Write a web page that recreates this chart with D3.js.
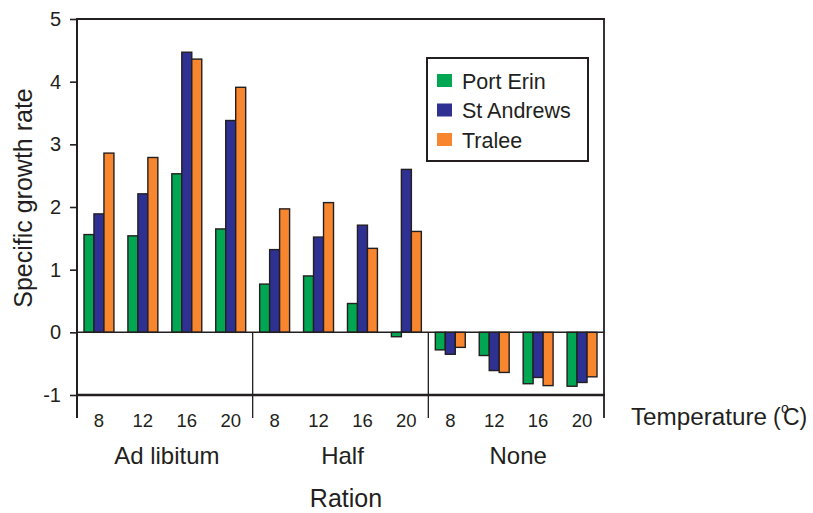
<!DOCTYPE html>
<html><head><meta charset="utf-8">
<script src="https://cdn.jsdelivr.net/npm/d3@7"></script>
<style>body{margin:0;background:#fff} text{font-family:"Liberation Sans",Arial,sans-serif;fill:#231f20}</style>
</head><body><svg id="c" width="813" height="513"></svg>
<script>
const rations = ["Ad libitum","Half","None"];
const temperatures = ["8","12","16","20"];
const series = ["Port Erin","St Andrews","Tralee"];
const portErin  = [1.56,1.54,2.53,1.65, 0.77,0.90,0.46,-0.07, -0.28,-0.37,-0.82,-0.86];
const stAndrews = [1.89,2.21,4.47,3.38, 1.32,1.52,1.71,2.60, -0.35,-0.61,-0.72,-0.80];
const tralee    = [2.86,2.79,4.36,3.91, 1.97,2.07,1.34,1.61, -0.24,-0.64,-0.85,-0.71];
const yTicks = [-1,0,1,2,3,4,5];
const colors = ["#00a651","#2e3192","#f7862f"];
const ink = "#231f20";

const svg = d3.select("#c");
const y = d3.scaleLinear().domain([-1,5]).range([395,19]);
const xGroup = d3.scaleBand().domain(rations).range([77,604]);
const xTemp = d3.scaleBand().domain(temperatures).range([0,xGroup.bandwidth()]);
const xSeries = d3.scaleBand().domain(series).range([0,xTemp.bandwidth()]).paddingInner(0).paddingOuter(0.7);
const color = d3.scaleOrdinal().domain(series).range(colors);
const valuesBySeries = [portErin, stAndrews, tralee];

const data = [];
rations.forEach((r,i)=>temperatures.forEach((t,j)=>series.forEach((s,k)=>{
  data.push({r,t,s,v:valuesBySeries[k][i*4+j]});
})));

// bars
svg.append("g").selectAll("rect").data(data).join("rect")
  .attr("x",d=>xGroup(d.r)+xTemp(d.t)+xSeries(d.s))
  .attr("width",xSeries.bandwidth())
  .attr("y",d=>Math.min(y(d.v),y(0)))
  .attr("height",d=>Math.abs(y(d.v)-y(0)))
  .attr("fill",d=>color(d.s))
  .attr("stroke",ink).attr("stroke-width",1.4);

// zero line
svg.append("line").attr("x1",77).attr("x2",604).attr("y1",y(0)).attr("y2",y(0))
  .attr("stroke",ink).attr("stroke-width",1.5);
// frame top / right
svg.append("line").attr("x1",77).attr("x2",605).attr("y1",y(5)).attr("y2",y(5)).attr("stroke",ink).attr("stroke-width",2);
svg.append("line").attr("x1",604).attr("x2",604).attr("y1",y(5)).attr("y2",418).attr("stroke",ink).attr("stroke-width",1.8);
// bottom line
svg.append("line").attr("x1",77).attr("x2",605).attr("y1",y(-1)).attr("y2",y(-1)).attr("stroke",ink).attr("stroke-width",2.5);
// group dividers
rations.slice(1).forEach(r=>{
  svg.append("line").attr("x1",xGroup(r)).attr("x2",xGroup(r)).attr("y1",y(0)).attr("y2",418)
    .attr("stroke",ink).attr("stroke-width",1.3);
});

// y axis
const yAxis = svg.append("g").attr("transform","translate(77,0)")
  .call(d3.axisLeft(y).tickValues(yTicks).tickSize(7).tickPadding(9).tickFormat(d=>String(d)));
yAxis.select(".domain").remove();
yAxis.selectAll(".tick line").attr("stroke",ink).attr("stroke-width",1.6);
yAxis.selectAll(".tick text").attr("font-size",20).attr("font-family",null).attr("fill",ink);
svg.append("line").attr("x1",77).attr("x2",77).attr("y1",y(5)-1).attr("y2",418).attr("stroke",ink).attr("stroke-width",2);

// x tick labels
rations.forEach(r=>temperatures.forEach(t=>{
  svg.append("text").attr("x",xGroup(r)+xTemp(t)+xTemp.bandwidth()/2).attr("y",427)
    .attr("text-anchor","middle").attr("font-size",18.5).text(t);
}));
// group labels
rations.forEach(r=>{
  svg.append("text").attr("x",xGroup(r)+xGroup.bandwidth()/2+2).attr("y",464)
    .attr("text-anchor","middle").attr("font-size",24).text(r);
});
svg.append("text").attr("x",346).attr("y",507).attr("text-anchor","middle").attr("font-size",25).text("Ration");

// y title
svg.append("text").attr("transform","translate(32,198) rotate(-90)").attr("text-anchor","middle")
  .attr("font-size",25).text("Specific growth rate");

// Temperature label
const tl = svg.append("text").attr("x",631).attr("y",425).attr("font-size",23);
tl.append("tspan").attr("textLength",136).attr("lengthAdjust","spacingAndGlyphs").text("Temperature");
tl.append("tspan").attr("x",773).text("(");
tl.append("tspan").attr("x",781).attr("font-size",14).attr("dy",-12).text("o");
tl.append("tspan").attr("x",783).attr("dy",12).text("C)");

// legend
const lg = svg.append("g");
lg.append("rect").attr("x",427).attr("y",58).attr("width",161).attr("height",103)
  .attr("fill","#fff").attr("stroke",ink).attr("stroke-width",2);
series.forEach((s,i)=>{
  const cy = 80.5 + 29.5*i;
  lg.append("rect").attr("x",437).attr("y",cy-6.5).attr("width",15).attr("height",13).attr("fill",color(s));
  lg.append("text").attr("x",462).attr("y",cy+8).attr("font-size",21.5).text(s);
});
</script></body></html>
